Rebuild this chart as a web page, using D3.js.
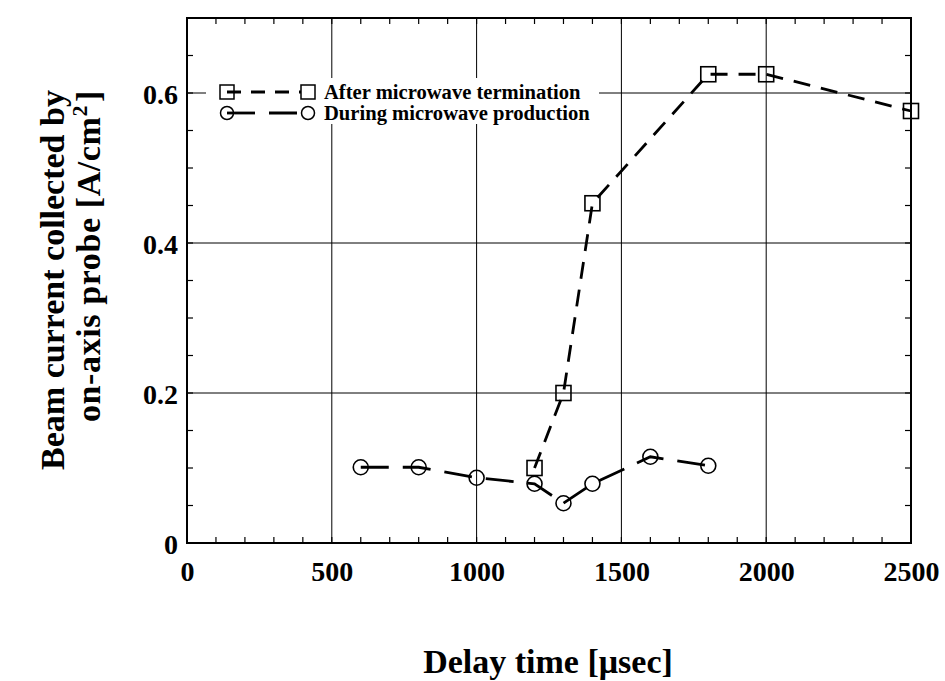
<!DOCTYPE html>
<html><head><meta charset="utf-8">
<script src="https://cdn.jsdelivr.net/npm/d3@7"></script>
<style>body{margin:0;background:#fff}svg{display:block}text{font-family:"Liberation Serif","Times New Roman",serif;font-weight:bold;fill:#000}</style>
</head><body><svg id="c" width="945" height="681"></svg>
<script>
const xTicks = [0, 500, 1000, 1500, 2000, 2500];
const yTicks = [0, 0.2, 0.4, 0.6];
const afterX = [1200, 1300, 1400, 1800, 2000, 2500];
const afterY = [0.10, 0.20, 0.453, 0.625, 0.625, 0.576];
const duringX = [600, 800, 1000, 1200, 1300, 1400, 1600, 1800];
const duringY = [0.101, 0.101, 0.087, 0.079, 0.053, 0.079, 0.115, 0.103];
const seriesNames = ["After microwave termination", "During microwave production"];

const svg = d3.select("#c");
const L = 187, R = 911, T = 18, B = 543;
const x = d3.scaleLinear().domain([0, 2500]).range([L, R]);
const y = d3.scaleLinear().domain([0, 0.7]).range([B, T]);

// grid
const g = svg.append("g");
g.selectAll(".vg").data(xTicks.filter(d => d > 0 && d < 2500)).enter().append("line")
  .attr("x1", d => x(d)).attr("x2", d => x(d)).attr("y1", T).attr("y2", B)
  .attr("stroke", "#000").attr("stroke-width", 1);
g.selectAll(".hg").data(yTicks.filter(d => d > 0)).enter().append("line")
  .attr("x1", L).attr("x2", R).attr("y1", d => y(d)).attr("y2", d => y(d))
  .attr("stroke", "#000").attr("stroke-width", 1);

// minor ticks
const xMinor = d3.range(0, 2501, 100);
const yMinor = d3.range(0, 0.701, 0.05);
const tk = svg.append("g").attr("stroke", "#000").attr("stroke-width", 1.2);
xMinor.forEach(v => {
  tk.append("line").attr("x1", x(v)).attr("x2", x(v)).attr("y1", B).attr("y2", B - 6);
  tk.append("line").attr("x1", x(v)).attr("x2", x(v)).attr("y1", T).attr("y2", T + 6);
});
yMinor.forEach(v => {
  tk.append("line").attr("x1", L).attr("x2", L + 6).attr("y1", y(v)).attr("y2", y(v));
  tk.append("line").attr("x1", R).attr("x2", R - 6).attr("y1", y(v)).attr("y2", y(v));
});

// frame
svg.append("rect").attr("x", L).attr("y", T).attr("width", R - L).attr("height", B - T)
  .attr("fill", "none").attr("stroke", "#000").attr("stroke-width", 2);

// axes labels
const xa = d3.axisBottom(x).tickValues(xTicks).tickSize(0).tickPadding(18).tickFormat(d3.format("d"));
const xg = svg.append("g").attr("transform", `translate(0,${B})`).call(xa);
xg.select(".domain").remove();
xg.selectAll("text").attr("font-size", 28).style("font-family", '"Liberation Serif",serif').style("font-weight", "bold");
const ya = d3.axisLeft(y).tickValues(yTicks).tickSize(0).tickPadding(9).tickFormat(d => d === 0 ? "0" : d3.format(".1f")(d));
const yg = svg.append("g").attr("transform", `translate(${L},0)`).call(ya);
yg.select(".domain").remove();
yg.selectAll("text").attr("font-size", 28).attr("dy", "0.36em").style("font-family", '"Liberation Serif",serif').style("font-weight", "bold");

// titles
svg.append("text").attr("x", 548).attr("y", 673).attr("text-anchor", "middle").attr("font-size", 34).text("Delay time [\u03bcsec]");
const yt = svg.append("g").attr("transform", "translate(0,280) rotate(-90)");
yt.append("text").attr("x", 0).attr("y", 64).attr("text-anchor", "middle").attr("font-size", 34).text("Beam current collected by");
const t2 = yt.append("text").attr("x", 24).attr("y", 100).attr("text-anchor", "middle").attr("font-size", 34).attr("letter-spacing", 0.6);
t2.append("tspan").text("on-axis probe [A/cm");
t2.append("tspan").attr("dy", -13).attr("font-size", 22).text("2");
t2.append("tspan").attr("dy", 13).attr("dx", 3).text("]");

// series
const after = afterX.map((v, i) => [v, afterY[i]]);
const during = duringX.map((v, i) => [v, duringY[i]]);
const line = d3.line().x(d => x(d[0])).y(d => y(d[1]));
svg.append("path").attr("d", line(during)).attr("fill", "none").attr("stroke", "#000")
  .attr("stroke-width", 2.8).attr("stroke-dasharray", "28,14");
svg.append("path").attr("d", line(after)).attr("fill", "none").attr("stroke", "#000")
  .attr("stroke-width", 2.8).attr("stroke-dasharray", "17,11");
svg.selectAll(".cm").data(during).enter().append("circle")
  .attr("cx", d => x(d[0])).attr("cy", d => y(d[1])).attr("r", 7.5)
  .attr("fill", "none").attr("stroke", "#000").attr("stroke-width", 1.6);
svg.selectAll(".sm").data(after).enter().append("rect")
  .attr("x", d => x(d[0]) - 7.5).attr("y", d => y(d[1]) - 7.5).attr("width", 15).attr("height", 15)
  .attr("fill", "none").attr("stroke", "#000").attr("stroke-width", 1.6);

// legend
const lg = svg.append("g");
lg.append("rect").attr("x", 206).attr("y", 78).attr("width", 393).attr("height", 46).attr("fill", "#fff");
const ly1 = 92, ly2 = 113, lx1 = 227, lx2 = 308;
lg.append("line").attr("x1", lx1).attr("x2", lx2).attr("y1", ly1).attr("y2", ly1)
  .attr("stroke", "#000").attr("stroke-width", 2.8).attr("stroke-dasharray", "14,10");
lg.append("rect").attr("x", lx1 - 7).attr("y", ly1 - 7).attr("width", 14).attr("height", 14).attr("fill", "none").attr("stroke", "#000").attr("stroke-width", 1.5);
lg.append("rect").attr("x", lx2 - 7).attr("y", ly1 - 7).attr("width", 14).attr("height", 14).attr("fill", "#fff").attr("stroke", "#000").attr("stroke-width", 1.5);
lg.append("line").attr("x1", lx1).attr("x2", lx2).attr("y1", ly2).attr("y2", ly2)
  .attr("stroke", "#000").attr("stroke-width", 2.8).attr("stroke-dasharray", "28,14");
lg.append("circle").attr("cx", lx1).attr("cy", ly2).attr("r", 6.5).attr("fill", "none").attr("stroke", "#000").attr("stroke-width", 1.5);
lg.append("circle").attr("cx", lx2).attr("cy", ly2).attr("r", 6.5).attr("fill", "none").attr("stroke", "#000").attr("stroke-width", 1.5);
lg.append("text").attr("x", 324).attr("y", ly1 + 7).attr("font-size", 20.6).text(seriesNames[0]);
lg.append("text").attr("x", 324).attr("y", ly2 + 7).attr("font-size", 20.6).text(seriesNames[1]);
</script></body></html>
